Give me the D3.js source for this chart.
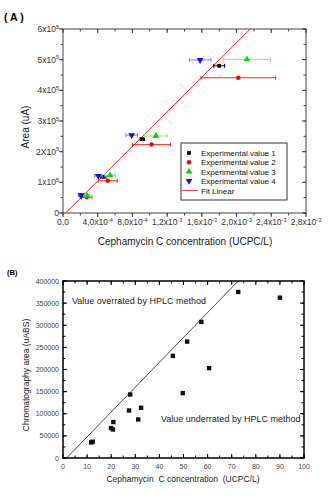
<!DOCTYPE html>
<html>
<head>
<meta charset="utf-8">
<script src="https://cdn.jsdelivr.net/npm/d3@7"></script>
<style>
body { margin: 0; background: #fff; }
text { font-family: "Liberation Sans", Arial, sans-serif; }
</style>
</head>
<body>
<svg id="chart" width="334" height="500"></svg>
<script>
// ---------- Panel A data ----------
const seriesNames = ["Experimental value 1", "Experimental value 2", "Experimental value 3", "Experimental value 4"];
const conc1 = [2.22e-4, 4.65e-4, 9.14e-4, 1.80e-3];
const area1 = [5.7e4, 1.18e5, 2.41e5, 4.80e5];
const err1 = [2.5e-5, 3e-5, 2.5e-5, 6.3e-5];
const conc2 = [2.73e-4, 5.15e-4, 1.02e-3, 2.02e-3];
const area2 = [5.1e4, 1.05e5, 2.23e5, 4.41e5];
const err2 = [6e-5, 1.1e-4, 2.2e-4, 4.3e-4];
const conc3 = [2.8e-4, 5.42e-4, 1.07e-3, 2.12e-3];
const area3 = [5.6e4, 1.23e5, 2.51e5, 5.01e5];
const err3 = [3e-5, 6e-5, 1.3e-4, 2.7e-4];
const conc4 = [2.07e-4, 4.07e-4, 7.91e-4, 1.58e-3];
const area4 = [5.8e4, 1.21e5, 2.54e5, 4.99e5];
const err4 = [3e-5, 4.5e-5, 6.7e-5, 1.25e-4];
const fitA = { slope: 2.82e8, intercept: -8500 };

const xTicksA = [0, 4e-4, 8e-4, 1.2e-3, 1.6e-3, 2.0e-3, 2.4e-3, 2.8e-3];
const xTickTextA = ["0,0", "4,0x10^-4", "8,0x10^-4", "1,2x10^-3", "1,6x10^-3", "2,0x10^-3", "2,4x10^-3", "2,8x10^-3"];
const yTicksA = [0, 1e5, 2e5, 3e5, 4e5, 5e5, 6e5];
const yTickTextA = ["0", "1x10^5", "2X10^5", "3x10^5", "4x10^5", "5x10^5", "6x10^5"];

// ---------- Panel B data ----------
const concB = [11.7, 12.3, 19.9, 20.7, 20.9, 27.4, 27.9, 31.2, 32.4, 45.6, 49.7, 51.5, 57.4, 60.6, 72.7, 90.0];
const areaB = [35200, 36800, 67700, 64500, 81200, 107400, 143500, 87100, 113500, 230800, 146600, 263000, 307500, 203000, 375200, 362300];
const fitB = { slope: 5618, intercept: -8427 };
const xTicksB = [0, 10, 20, 30, 40, 50, 60, 70, 80, 90, 100];
const yTicksB = [0, 50000, 100000, 150000, 200000, 250000, 300000, 350000, 400000];

const svg = d3.select("#chart");

// Write "mantissa^exp" as text with a raised exponent
function supText(sel, str, size) {
    const parts = str.split("^");
    sel.text(null);
    sel.append("tspan").text(parts[0]);
    if (parts.length > 1) {
        sel.append("tspan")
            .attr("dy", -size * 0.4)
            .attr("font-size", size * 0.65)
            .text(parts[1]);
    }
}

// ================= Panel A =================
const xA = d3.scaleLinear().domain([0, 2.8e-3]).range([63, 306]);
const yA = d3.scaleLinear().domain([0, 6e5]).range([213, 29]);
const gA = svg.append("g");
const axisColA = "#444";

// frame
gA.append("rect")
    .attr("x", xA(0)).attr("y", yA(6e5))
    .attr("width", xA(2.8e-3) - xA(0)).attr("height", yA(0) - yA(6e5))
    .attr("fill", "none").attr("stroke", axisColA).attr("stroke-width", 1);

const xMinorA = d3.range(0, 15).map(i => i * 2e-4);
const yMinorA = d3.range(0, 13).map(i => i * 5e4);

function tickLines(g, vals, scale, orient, len) {
    g.selectAll(null).data(vals).enter().append("line")
        .attr("x1", d => orient.v ? scale(d) : orient.pos)
        .attr("x2", d => orient.v ? scale(d) : orient.pos + len)
        .attr("y1", d => orient.v ? orient.pos : scale(d))
        .attr("y2", d => orient.v ? orient.pos + len : scale(d))
        .attr("stroke", orient.col).attr("stroke-width", orient.w || 1);
}

// bottom (out), top (in), left (out), right (in)
tickLines(gA, xMinorA, xA, { v: true, pos: yA(0), col: axisColA }, 2.5);
tickLines(gA, xTicksA, xA, { v: true, pos: yA(0), col: axisColA }, 4);
tickLines(gA, xMinorA, xA, { v: true, pos: yA(6e5), col: axisColA }, 2.5);
tickLines(gA, xTicksA, xA, { v: true, pos: yA(6e5), col: axisColA }, 4);
tickLines(gA, yMinorA, yA, { v: false, pos: xA(0), col: axisColA }, -2.5);
tickLines(gA, yTicksA, yA, { v: false, pos: xA(0), col: axisColA }, -4);
tickLines(gA, yMinorA, yA, { v: false, pos: xA(2.8e-3), col: axisColA }, -2.5);
tickLines(gA, yTicksA, yA, { v: false, pos: xA(2.8e-3), col: axisColA }, -4);

// tick labels
gA.selectAll(".xl").data(xTicksA).enter().append("text")
    .attr("x", d => xA(d)).attr("y", 225)
    .attr("text-anchor", "middle").attr("font-size", 8.5).attr("fill", "#333")
    .each(function(d, i) { supText(d3.select(this), xTickTextA[i], 8.5); });
gA.selectAll(".yl").data(yTicksA).enter().append("text")
    .attr("x", 59).attr("y", d => yA(d) + 3)
    .attr("text-anchor", "end").attr("font-size", 8.5).attr("fill", "#333")
    .each(function(d, i) { supText(d3.select(this), yTickTextA[i], 8.5); });

// titles
svg.append("text").attr("x", 4).attr("y", 21)
    .attr("font-size", 10.5).attr("font-weight", "bold").text("( A )");
svg.append("text").attr("x", 185).attr("y", 245)
    .attr("text-anchor", "middle").attr("font-size", 10).attr("fill", "#222")
    .text("Cephamycin C concentration (UCPC/L)");
svg.append("text")
    .attr("transform", "translate(29,127) rotate(-90)")
    .attr("text-anchor", "middle").attr("font-size", 10).attr("fill", "#222")
    .text("Area (uA)");

// fit line (clip to the frame)
const fitX0 = -fitA.intercept / fitA.slope;
const fitX1 = (6e5 - fitA.intercept) / fitA.slope;
gA.append("line")
    .attr("x1", xA(fitX0)).attr("y1", yA(0))
    .attr("x2", xA(fitX1)).attr("y2", yA(6e5))
    .attr("stroke", "#ff2020").attr("stroke-width", 1);

// series
const seriesA = [
    { x: conc1, y: area1, e: err1, col: "#000", ecol: "#000", sym: d3.symbolSquare, size: 14, rot: 0 },
    { x: conc2, y: area2, e: err2, col: "#ff0000", ecol: "#ff2020", sym: d3.symbolCircle, size: 16, rot: 0 },
    { x: conc3, y: area3, e: err3, col: "#00dd00", ecol: "#7cf07c", sym: d3.symbolTriangle, size: 20, rot: 0 },
    { x: conc4, y: area4, e: err4, col: "#1010ee", ecol: "#7f7fff", sym: d3.symbolTriangle, size: 20, rot: 180 }
];

seriesA.forEach(s => {
    const pts = s.x.map((v, i) => ({ x: v, y: s.y[i], e: s.e[i] }));
    const g = gA.append("g");
    const eb = g.selectAll(null).data(pts).enter().append("g")
        .attr("stroke", s.ecol).attr("stroke-width", 1);
    eb.append("line")
        .attr("x1", d => xA(d.x - d.e)).attr("x2", d => xA(d.x + d.e))
        .attr("y1", d => yA(d.y)).attr("y2", d => yA(d.y));
    eb.append("line")
        .attr("x1", d => xA(d.x - d.e)).attr("x2", d => xA(d.x - d.e))
        .attr("y1", d => yA(d.y) - 2).attr("y2", d => yA(d.y) + 2);
    eb.append("line")
        .attr("x1", d => xA(d.x + d.e)).attr("x2", d => xA(d.x + d.e))
        .attr("y1", d => yA(d.y) - 2).attr("y2", d => yA(d.y) + 2);
    g.selectAll(null).data(pts).enter().append("path")
        .attr("d", d3.symbol().type(s.sym).size(s.size))
        .attr("transform", d => `translate(${xA(d.x)},${yA(d.y)}) rotate(${s.rot})`)
        .attr("fill", s.col);
});

// legend
const leg = gA.append("g");
leg.append("rect").attr("x", 181).attr("y", 143).attr("width", 106).attr("height", 57)
    .attr("fill", "#fff").attr("stroke", "#333").attr("stroke-width", 1);
seriesA.forEach((s, i) => {
    const ly = 153 + i * 9.3;
    leg.append("path")
        .attr("d", d3.symbol().type(s.sym).size(s.size))
        .attr("transform", `translate(189,${ly}) rotate(${s.rot})`)
        .attr("fill", s.col);
    leg.append("text").attr("x", 201).attr("y", ly + 3)
        .attr("font-size", 8).attr("fill", "#111").text(seriesNames[i]);
});
leg.append("line").attr("x1", 182).attr("x2", 198).attr("y1", 190.5).attr("y2", 190.5)
    .attr("stroke", "#ff4040").attr("stroke-width", 1);
leg.append("text").attr("x", 201).attr("y", 193.5)
    .attr("font-size", 8).attr("fill", "#111").text("Fit Linear");

// ================= Panel B =================
const xB = d3.scaleLinear().domain([0, 100]).range([63, 304]);
const yB = d3.scaleLinear().domain([0, 400000]).range([458, 281]);
const gB = svg.append("g");

const xMinorB = d3.range(0, 21).map(i => i * 5);
const yMinorB = d3.range(0, 17).map(i => i * 25000);

tickLines(gB, xMinorB, xB, { v: true, pos: yB(0), col: "#000" }, -2.5);
tickLines(gB, xTicksB, xB, { v: true, pos: yB(0), col: "#000" }, -4);
tickLines(gB, xMinorB, xB, { v: true, pos: yB(400000), col: "#000" }, 2.5);
tickLines(gB, xTicksB, xB, { v: true, pos: yB(400000), col: "#000" }, 4);
tickLines(gB, yMinorB, yB, { v: false, pos: xB(0), col: "#000" }, 2.5);
tickLines(gB, yTicksB, yB, { v: false, pos: xB(0), col: "#000" }, 4);
tickLines(gB, yMinorB, yB, { v: false, pos: xB(100), col: "#000" }, -2.5);
tickLines(gB, yTicksB, yB, { v: false, pos: xB(100), col: "#000" }, -4);

gB.append("rect")
    .attr("x", xB(0)).attr("y", yB(400000))
    .attr("width", xB(100) - xB(0)).attr("height", yB(0) - yB(400000))
    .attr("fill", "none").attr("stroke", "#000").attr("stroke-width", 1.5);

gB.selectAll(".xl").data(xTicksB).enter().append("text")
    .attr("x", d => xB(d)).attr("y", 469)
    .attr("text-anchor", "middle").attr("font-size", 7).attr("fill", "#444")
    .text(d => d);
gB.selectAll(".yl").data(yTicksB).enter().append("text")
    .attr("x", 59).attr("y", d => yB(d) + 2.5)
    .attr("text-anchor", "end").attr("font-size", 7).attr("fill", "#444")
    .text(d => d);

svg.append("text").attr("x", 7).attr("y", 275)
    .attr("font-size", 7.5).attr("font-weight", "bold").text("(B)");
svg.append("text").attr("x", 183).attr("y", 482)
    .attr("text-anchor", "middle").attr("font-size", 8.5).attr("fill", "#222")
    .style("white-space", "pre")
    .text("Cephamycin  C concentration  (UCPC/L)");
svg.append("text")
    .attr("transform", "translate(29,375) rotate(-90)")
    .attr("text-anchor", "middle").attr("font-size", 8.5).attr("fill", "#222")
    .text("Chromatography area (uABS)");

const fbX0 = -fitB.intercept / fitB.slope;
const fbX1 = (400000 - fitB.intercept) / fitB.slope;
gB.append("line")
    .attr("x1", xB(fbX0)).attr("y1", yB(0))
    .attr("x2", xB(fbX1)).attr("y2", yB(400000))
    .attr("stroke", "#222").attr("stroke-width", 0.8);

gB.selectAll(".pt").data(concB).enter().append("rect")
    .attr("x", (d, i) => xB(d) - 2.2).attr("y", (d, i) => yB(areaB[i]) - 2.2)
    .attr("width", 4.4).attr("height", 4.4).attr("fill", "#111");

gB.append("text").attr("x", 72).attr("y", 304)
    .attr("font-size", 9).attr("fill", "#222").text("Value overrated by HPLC method");
gB.append("text").attr("x", 161).attr("y", 422)
    .attr("font-size", 9).attr("fill", "#222").text("Value underrated by HPLC method");
</script>
</body>
</html>
